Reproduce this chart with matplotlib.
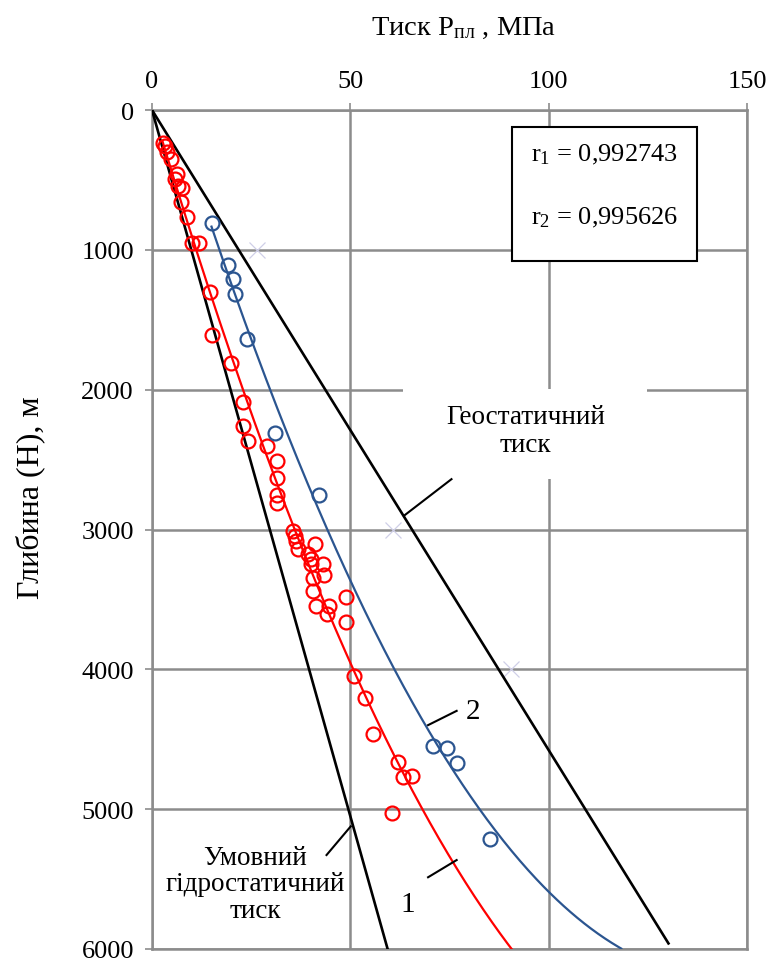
import numpy as np
import matplotlib
matplotlib.use("Agg")
import matplotlib.pyplot as plt
from matplotlib.patches import Rectangle

plt.rcParams['font.family'] = ['Liberation Serif', 'DejaVu Serif']
plt.rcParams['mathtext.fontset'] = 'custom'
plt.rcParams['mathtext.rm'] = 'Liberation Serif'
plt.rcParams['mathtext.it'] = 'Liberation Serif:italic'

# Measured reservoir pressure (MPa) vs depth (m), group 1
red_P = [2.7, 3.3, 3.7, 4.7, 6.2, 5.8, 6.6, 7.5, 7.2, 8.7, 10.0, 11.9, 14.6, 15.0,
         19.8, 23.0, 23.0, 24.3, 28.9, 31.4, 31.6, 31.6, 31.6, 35.6, 36.0, 36.4,
         36.9, 41.1, 39.4, 40.0, 40.2, 43.2, 43.3, 40.6, 40.5, 48.9, 41.3, 44.7,
         44.2, 48.8, 50.9, 53.7, 55.6, 62.0, 63.2, 65.6, 60.4]
red_H = [236, 260, 303, 350, 458, 494, 541, 560, 660, 768, 951, 951, 1304, 1609,
         1810, 2091, 2258, 2370, 2401, 2509, 2630, 2750, 2810, 3009, 3045, 3081,
         3140, 3104, 3176, 3212, 3247, 3247, 3326, 3350, 3438, 3486, 3550, 3550,
         3605, 3660, 4050, 4208, 4459, 4661, 4769, 4762, 5029]

# Group 2
blue_P = [15.0, 19.2, 20.5, 20.9, 23.9, 31.0, 42.1, 70.9, 74.4, 76.8, 85.3]
blue_H = [808, 1109, 1209, 1316, 1638, 2310, 2754, 4547, 4564, 4671, 5210]

# Reference pressure lines
geo_P = [0, 130.2]
geo_H = [0, 5960]
hydro_P = [0, 59.4]
hydro_H = [0, 6000]

# Auxiliary series markers
aux_P = [26.4, 60.7, 90.4]
aux_H = [1000, 3000, 4000]

r1_text = "0,992743"
r2_text = "0,995626"
x_ticks = [0, 50, 100, 150]
y_ticks = [0, 1000, 2000, 3000, 4000, 5000, 6000]
forecast = 33.0

RED = '#ff0000'
BLUE = '#2b5590'
GRID = '#8c8c8c'

fig = plt.figure(figsize=(7.71, 9.62), dpi=100)
ax = fig.add_axes([152 / 771, 1 - 950 / 962, (747 - 152) / 771, (950 - 111) / 962])

ax.set_xlim(0, 150)
ax.set_ylim(6000, 0)
ax.set_xticks(x_ticks)
ax.set_yticks(y_ticks)
ax.xaxis.tick_top()
ax.tick_params(axis='both', colors=GRID, labelcolor='black', labelsize=19,
               length=5, width=1.2, direction='out')
ax.tick_params(axis='x', pad=8)
ax.tick_params(axis='y', pad=8)
for s in ax.spines.values():
    s.set_color(GRID)
    s.set_linewidth(1.8)
ax.grid(True, color=GRID, linewidth=1.8, zorder=0)
ax.set_axisbelow(True)

# Reference lines
ax.plot(geo_P, geo_H, color='black', lw=1.9, zorder=3)
ax.plot(hydro_P, hydro_H, color='black', lw=1.9, zorder=3)
ax.plot(aux_P, aux_H, ls='none', marker='x', ms=11, mew=0.9, color='#cfcfe8', zorder=2)

# Quadratic trend lines H(P)
for P, H, col in ((red_P, red_H, RED), (blue_P, blue_H, BLUE)):
    coef = np.polyfit(P, H, 2)
    pp = np.linspace(min(P), max(P) + forecast, 300)
    ax.plot(pp, np.polyval(coef, pp), color=col, lw=1.6, zorder=4)

ax.plot(red_P, red_H, ls='none', marker='o', ms=10, mfc='none', mec=RED, mew=1.6, zorder=5)
ax.plot(blue_P, blue_H, ls='none', marker='o', ms=10, mfc='none', mec=BLUE, mew=1.6, zorder=5)

# Correlation box
ax.add_patch(Rectangle((90.7, 124), 46.6, 954, facecolor='white', edgecolor='black',
                       lw=1.5, zorder=6))
ax.text(95.5, 315, r"r$_1$ = " + r1_text, fontsize=19, va='center', ha='left', zorder=7)
ax.text(95.5, 767, r"r$_2$ = " + r2_text, fontsize=19, va='center', ha='left', zorder=7)

# Geostatic label
ax.add_patch(Rectangle((63.3, 1996), 61.5, 644, facecolor='white', edgecolor='none', zorder=2))
ax.text(94.2, 2292, "Геостатичний\nтиск", fontsize=19.5, ha='center', va='center',
        linespacing=1.15, zorder=7)
ax.plot([75.5, 63.5], [2640, 2902], color='black', lw=1.5, zorder=6)

# Curve labels
ax.plot([69.6, 76.8], [4399, 4297], color='black', lw=1.5, zorder=6)
ax.text(80.8, 4296, "2", fontsize=21, ha='center', va='center', zorder=7)
ax.plot([69.6, 76.8], [5487, 5364], color='black', lw=1.5, zorder=6)
ax.text(64.6, 5678, "1", fontsize=21, ha='center', va='center', zorder=7)

# Hydrostatic label
ax.plot([44.0, 50.1], [5328, 5123], color='black', lw=1.5, zorder=6)
ax.text(26.0, 5535, "Умовний\nгідростатичний\nтиск", fontsize=19.5, ha='center',
        va='center', linespacing=1.1, zorder=7)

fig.text(464 / 771, 1 - 28 / 962, r"Тиск P$_{\mathrm{пл}}$ , МПа", fontsize=20.5,
         ha='center', va='center')
fig.text(30 / 771, 1 - 498 / 962, "Глибина (Н), м", fontsize=23, rotation=90,
         ha='center', va='center')

fig.savefig("out.png", dpi=100)
